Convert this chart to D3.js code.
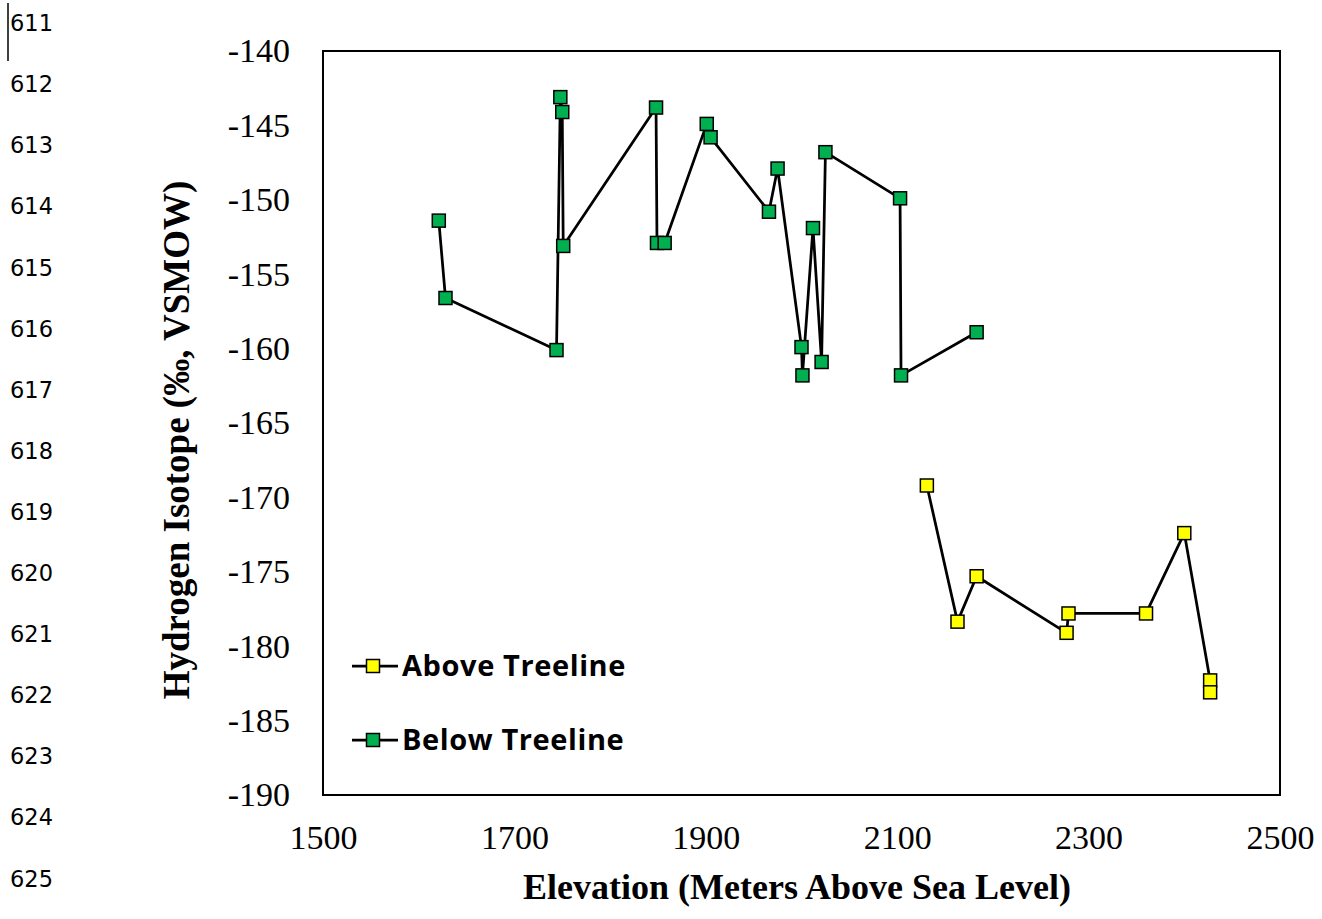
<!DOCTYPE html>
<html>
<head>
<meta charset="utf-8">
<script src="https://cdn.jsdelivr.net/npm/d3@7"></script>
<style>
  html, body { margin: 0; padding: 0; background: #fff; }
  svg { display: block; }
</style>
</head>
<body>
<svg id="chart" width="1322" height="919"></svg>
<script>
// ---- data ----
const lineNumbers = ["611","612","613","614","615","616","617","618","619","620","621","622","623","624","625"];

const belowElevation = [1621, 1628, 1744, 1748, 1750, 1751, 1848, 1849, 1857, 1901, 1905, 1966, 1975, 2000, 2001, 2012, 2021, 2025, 2103, 2104, 2183];
const belowIsotope   = [-151.4, -156.6, -160.1, -143.1, -144.1, -153.1, -143.8, -152.9, -152.9, -144.9, -145.8, -150.8, -147.9, -159.9, -161.8, -151.9, -160.9, -146.8, -149.9, -161.8, -158.9];

const aboveElevation = [2131, 2163, 2183, 2277, 2279, 2360, 2400, 2427, 2427];
const aboveIsotope   = [-169.2, -178.35, -175.3, -179.1, -177.8, -177.8, -172.4, -182.3, -183.1];

const xTicks = [1500, 1700, 1900, 2100, 2300, 2500];
const yTicks = [-140, -145, -150, -155, -160, -165, -170, -175, -180, -185, -190];

const seriesNames = ["Above Treeline", "Below Treeline"];
const seriesColors = ["#FFFF00", "#00B050"];

const xTitle = "Elevation (Meters Above Sea Level)";
const yTitle = "Hydrogen Isotope (‰, VSMOW)";

// ---- layout ----
const svg = d3.select("#chart");
const plot = { left: 323, top: 51, right: 1280, bottom: 795 };

const x = d3.scaleLinear().domain([1500, 2500]).range([plot.left, plot.right]);
const y = d3.scaleLinear().domain([-190, -140]).range([plot.bottom, plot.top]);

// line numbers on the left margin
svg.append("g").selectAll("text").data(lineNumbers).join("text")
  .attr("x", 10)
  .attr("y", (d, i) => 23 + i * 61.1)
  .attr("dy", "0.36em")
  .attr("font-family", "'DejaVu Sans', sans-serif")
  .attr("font-size", 22.5)
  .attr("fill", "#000")
  .text(d => d);
svg.append("line").attr("x1", 8).attr("x2", 8).attr("y1", 3).attr("y2", 61)
  .attr("stroke", "#000").attr("stroke-width", 1.5);

// axes (labels only, no tick marks)
const serif = "'Liberation Serif', 'Times New Roman', serif";
const yAxis = svg.append("g").attr("transform", `translate(${plot.left},0)`)
  .call(d3.axisLeft(y).tickValues(yTicks).tickSize(0).tickPadding(33).tickFormat(d => "-" + Math.abs(d)));
yAxis.select(".domain").remove();
yAxis.selectAll("text").attr("font-family", serif).attr("font-size", 34).attr("fill", "#000");

const xAxis = svg.append("g").attr("transform", `translate(0,${plot.bottom})`)
  .call(d3.axisBottom(x).tickValues(xTicks).tickSize(0).tickPadding(0).tickFormat(d3.format("d")));
xAxis.select(".domain").remove();
xAxis.selectAll("text").attr("font-family", serif).attr("font-size", 34).attr("fill", "#000")
  .attr("y", 42).attr("dy", "0.35em");

// plot border
svg.append("rect")
  .attr("x", plot.left).attr("y", plot.top)
  .attr("width", plot.right - plot.left).attr("height", plot.bottom - plot.top)
  .attr("fill", "none").attr("stroke", "#000").attr("stroke-width", 2);

// axis titles
svg.append("text")
  .attr("x", 797).attr("y", 886).attr("dy", "0.35em")
  .attr("text-anchor", "middle")
  .attr("font-family", serif).attr("font-weight", "bold").attr("font-size", 36)
  .attr("fill", "#000").text(xTitle);
svg.append("text")
  .attr("transform", "translate(176,440) rotate(-90)")
  .attr("dy", "0.35em")
  .attr("text-anchor", "middle")
  .attr("font-family", serif).attr("font-weight", "bold").attr("font-size", 37)
  .attr("fill", "#000").text(yTitle);

// series
const series = [
  { name: seriesNames[0], color: seriesColors[0], pts: aboveElevation.map((e, i) => [e, aboveIsotope[i]]) },
  { name: seriesNames[1], color: seriesColors[1], pts: belowElevation.map((e, i) => [e, belowIsotope[i]]) }
];
const line = d3.line().x(d => x(d[0])).y(d => y(d[1]));
const mk = 13;

series.forEach(s => {
  svg.append("path").datum(s.pts)
    .attr("d", line).attr("fill", "none")
    .attr("stroke", "#000").attr("stroke-width", 2.75).attr("stroke-linejoin", "round");
  svg.append("g").selectAll("rect").data(s.pts).join("rect")
    .attr("x", d => x(d[0]) - mk / 2).attr("y", d => y(d[1]) - mk / 2)
    .attr("width", mk).attr("height", mk)
    .attr("fill", s.color).attr("stroke", "#000").attr("stroke-width", 1.5);
});

// legend
const legend = svg.append("g");
series.forEach((s, i) => {
  const ly = 666 + i * 74;
  const g = legend.append("g").attr("transform", `translate(352,${ly})`);
  g.append("line").attr("x1", 0).attr("x2", 46).attr("y1", 0).attr("y2", 0)
    .attr("stroke", "#000").attr("stroke-width", 2.75);
  g.append("rect").attr("x", 21 - mk / 2).attr("y", -mk / 2).attr("width", mk).attr("height", mk)
    .attr("fill", s.color).attr("stroke", "#000").attr("stroke-width", 1.5);
  g.append("text").attr("x", 50).attr("y", 0).attr("dy", "0.36em")
    .attr("font-family", "'Open Sans', sans-serif").attr("font-weight", "bold")
    .attr("font-size", 29).attr("letter-spacing", 0.6).attr("fill", "#000").text(s.name);
});
</script>
</body>
</html>
